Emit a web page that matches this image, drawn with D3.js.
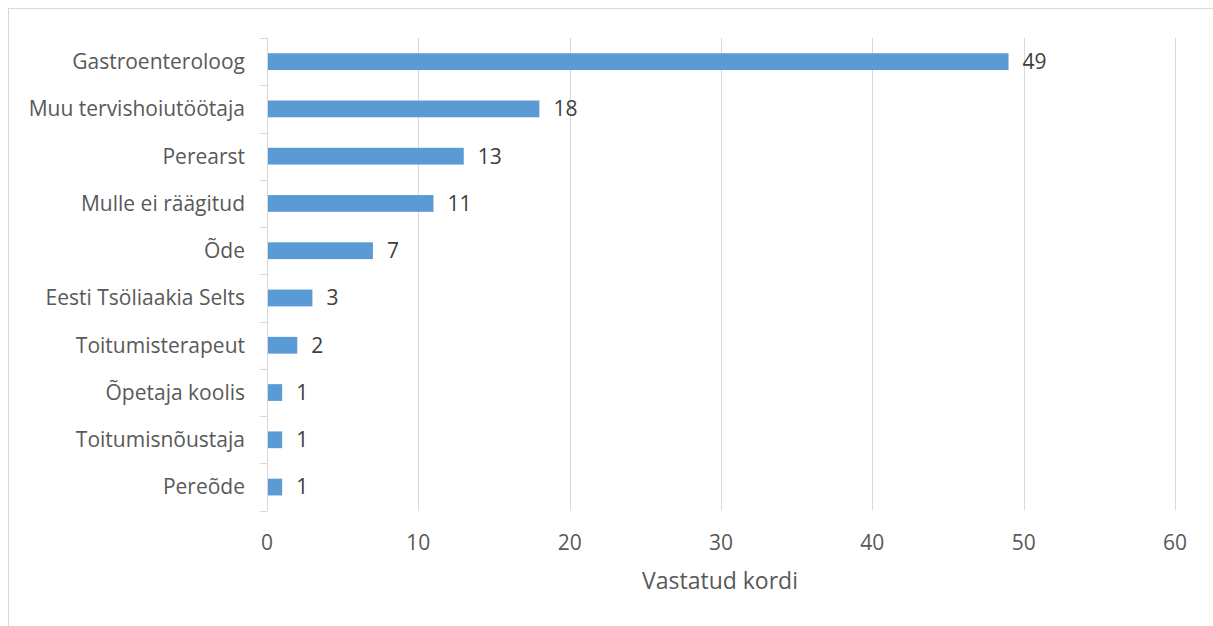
<!DOCTYPE html>
<html>
<head>
<meta charset="utf-8">
<script src="https://cdn.jsdelivr.net/npm/d3@7"></script>
<style>
  html, body { margin: 0; padding: 0; background: #fff; }
  svg { display: block; font-family: "Open Sans", "Noto Sans", sans-serif; }
</style>
</head>
<body>
<svg id="chart" width="1213" height="626"></svg>
<script>
// Who informed the respondent (number of answers)
const categories = [
  "Gastroenteroloog",
  "Muu tervishoiutöötaja",
  "Perearst",
  "Mulle ei räägitud",
  "Õde",
  "Eesti Tsöliaakia Selts",
  "Toitumisterapeut",
  "Õpetaja koolis",
  "Toitumisnõustaja",
  "Pereõde"
];
const counts = [49, 18, 13, 11, 7, 3, 2, 1, 1, 1];
const xTicks = [0, 10, 20, 30, 40, 50, 60];
const xTitle = "Vastatud kordi";

const svg = d3.select("#chart");
const W = 1213, H = 626;

// outer frame (open at the right and bottom edges)
svg.append("rect")
  .attr("x", 8.5).attr("y", 8.5)
  .attr("width", W + 10).attr("height", H + 10)
  .attr("fill", "none").attr("stroke", "#d9d9d9").attr("stroke-width", 1);

const plot = { left: 267, right: 1175, top: 38, bottom: 510.7 };

const x = d3.scaleLinear().domain([0, 60]).range([plot.left, plot.right]);
const y = d3.scaleBand().domain(categories).range([plot.top, plot.bottom]).paddingInner(0.645).paddingOuter(0.3225);
const yOuter = d3.scaleBand().domain(categories).range([plot.top, plot.bottom]);

// vertical gridlines
svg.append("g").selectAll("line")
  .data(xTicks.filter(d => d > 0))
  .join("line")
  .attr("x1", d => Math.round(x(d)) + 0.5).attr("x2", d => Math.round(x(d)) + 0.5)
  .attr("y1", plot.top).attr("y2", plot.bottom)
  .attr("stroke", "#d9d9d9").attr("stroke-width", 1);

// x tick labels
svg.append("g").selectAll("text")
  .data(xTicks)
  .join("text")
  .attr("x", d => x(d)).attr("y", 550)
  .attr("text-anchor", "middle")
  .attr("font-size", 21).attr("fill", "#595959")
  .text(d => d);

// x title
svg.append("text")
  .attr("x", 720).attr("y", 589)
  .attr("text-anchor", "middle")
  .attr("font-size", 23).attr("fill", "#595959")
  .text(xTitle);

// category axis line and tick marks between bands
const axisG = svg.append("g").attr("stroke", "#d9d9d9").attr("stroke-width", 1);
axisG.append("line")
  .attr("x1", plot.left + 0.5).attr("x2", plot.left + 0.5)
  .attr("y1", plot.top).attr("y2", plot.bottom);
const bounds = categories.map(c => yOuter(c)).concat([plot.bottom]);
axisG.selectAll("line.tk")
  .data(bounds)
  .join("line").attr("class", "tk")
  .attr("x1", plot.left - 7).attr("x2", plot.left + 0.5)
  .attr("y1", d => Math.round(d) + 0.5).attr("y2", d => Math.round(d) + 0.5);

// category labels
svg.append("g").selectAll("text")
  .data(categories)
  .join("text")
  .attr("x", 245)
  .attr("y", d => y(d) + y.bandwidth() / 2)
  .attr("dy", "0.35em")
  .attr("text-anchor", "end")
  .attr("font-size", 21).attr("fill", "#595959")
  .text(d => d);

// bars
svg.append("g").selectAll("rect")
  .data(categories)
  .join("rect")
  .attr("x", x(0) + 1)
  .attr("y", d => y(d))
  .attr("width", (d, i) => x(counts[i]) - x(0) - 1)
  .attr("height", y.bandwidth())
  .attr("fill", "#5b9bd5");

// value labels
svg.append("g").selectAll("text")
  .data(categories)
  .join("text")
  .attr("x", (d, i) => x(counts[i]) + 14)
  .attr("y", d => y(d) + y.bandwidth() / 2)
  .attr("dy", "0.35em")
  .attr("font-size", 21).attr("fill", "#404040")
  .text((d, i) => counts[i]);
</script>
</body>
</html>
